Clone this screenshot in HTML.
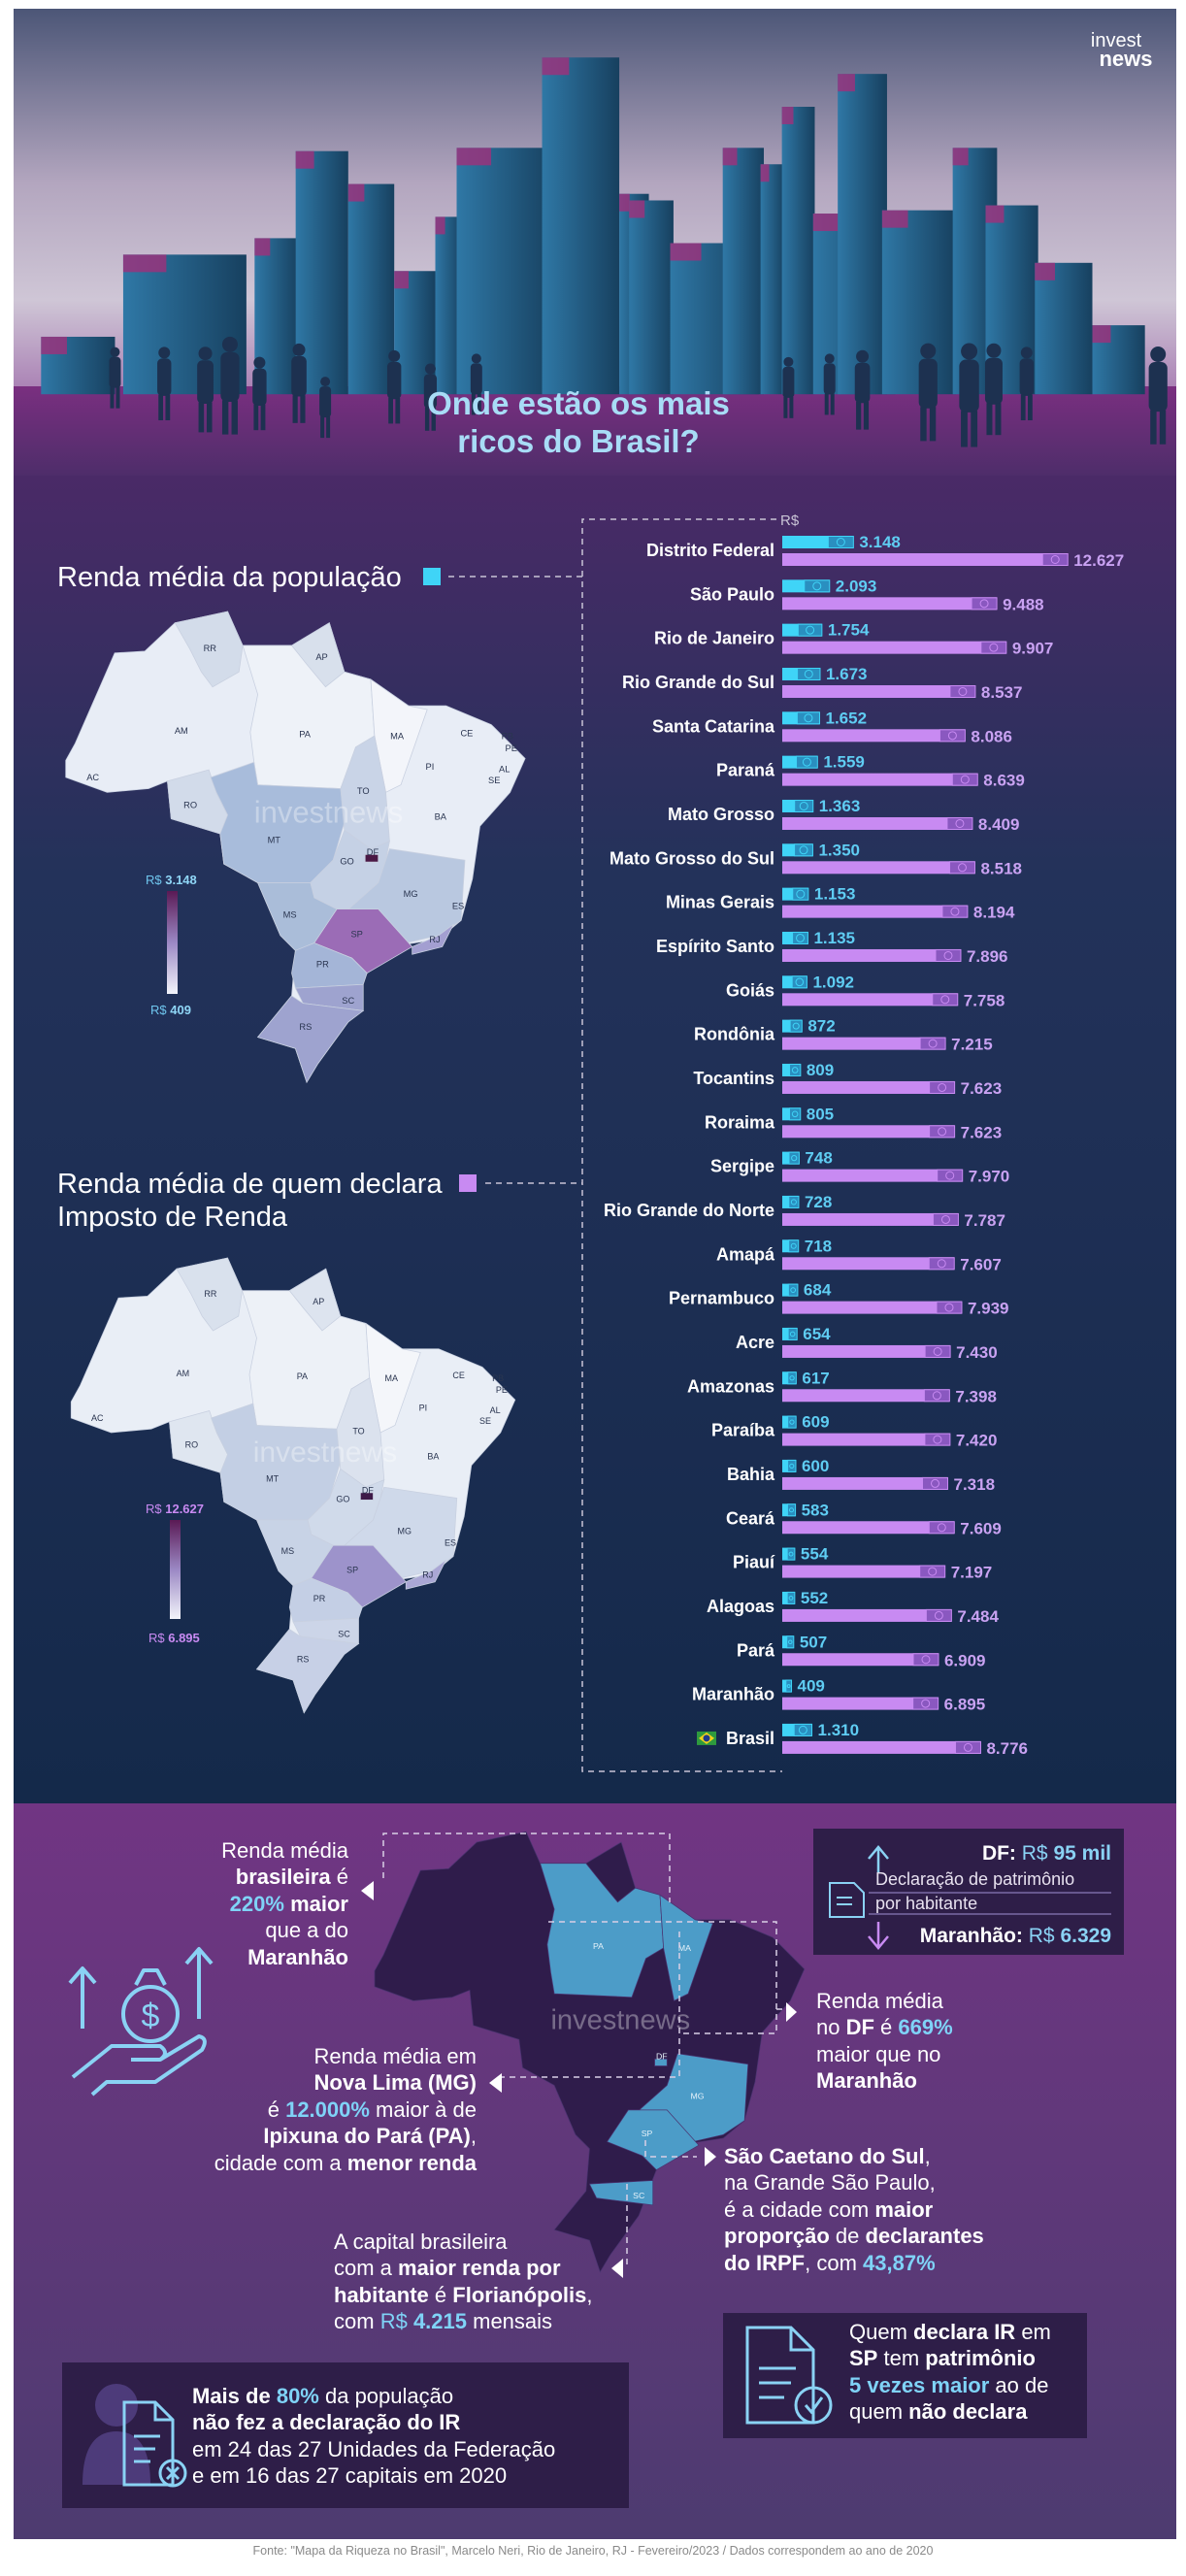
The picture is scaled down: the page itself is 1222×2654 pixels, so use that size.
<!DOCTYPE html>
<html lang="pt-BR"><head><meta charset="utf-8"><title>Onde estão os mais ricos do Brasil?</title>
<style>
html,body{margin:0;padding:0;background:#fff;}
body{width:1222px;height:2654px;position:relative;overflow:hidden;font-family:"Liberation Sans",sans-serif;}
#art{position:absolute;left:0;top:0;}
.t{position:absolute;color:#fff;font-size:22px;line-height:27.4px;font-family:"Liberation Sans",sans-serif;white-space:nowrap;}
.t b{font-weight:bold;}
.c{color:#7fd3f7;}
.r{text-align:right;}
</style></head>
<body>
<svg id="art" width="1222" height="2654" viewBox="0 0 1222 2654" xmlns="http://www.w3.org/2000/svg" font-family="Liberation Sans, sans-serif">
<defs>
<linearGradient id="sky" x1="0" y1="0" x2="0" y2="1">
<stop offset="0" stop-color="#4c5677"/><stop offset="0.45" stop-color="#b3a6bf"/><stop offset="0.75" stop-color="#cfc6d6"/><stop offset="1" stop-color="#a77cb2"/></linearGradient>
<linearGradient id="ground" x1="0" y1="0" x2="0" y2="1"><stop offset="0" stop-color="#7a2f80"/><stop offset="1" stop-color="#4e2d6a"/></linearGradient>
<linearGradient id="dark" x1="0" y1="0" x2="0" y2="1"><stop offset="0" stop-color="#4a2a67"/><stop offset="0.3" stop-color="#23325a"/><stop offset="1" stop-color="#14294a"/></linearGradient>
<linearGradient id="purp" x1="0" y1="0" x2="0" y2="1"><stop offset="0" stop-color="#713583"/><stop offset="1" stop-color="#4d3b70"/></linearGradient>
<linearGradient id="bld" x1="0" y1="0" x2="1" y2="0"><stop offset="0" stop-color="#2f78a6"/><stop offset="1" stop-color="#17405f"/></linearGradient>
<linearGradient id="leg1" x1="0" y1="0" x2="0" y2="1"><stop offset="0" stop-color="#5a1a55"/><stop offset="0.5" stop-color="#9b88c4"/><stop offset="1" stop-color="#f2f4fa"/></linearGradient>
</defs>
<rect x="14" y="9" width="1198" height="400" fill="url(#sky)"/>
<rect x="14" y="398" width="1198" height="92" fill="url(#ground)"/>
<g id="buildings"></g>
<g id="people" fill="#1d3150"></g>
<text x="1150" y="48" fill="#fff" font-size="20" text-anchor="middle">invest</text>
<text x="1160" y="68" fill="#fff" font-size="22" font-weight="bold" text-anchor="middle">news</text>
<text x="596" y="427" fill="#a8dcf6" font-size="33" font-weight="bold" text-anchor="middle">Onde estão os mais</text>
<text x="596" y="466" fill="#a8dcf6" font-size="33" font-weight="bold" text-anchor="middle">ricos do Brasil?</text>

<rect x="14" y="490" width="1198" height="1368" fill="url(#dark)"/>
<rect x="14" y="1858" width="1198" height="758" fill="url(#purp)"/>

<text x="59" y="604" fill="#fff" font-size="29">Renda média da população</text>
<rect x="436" y="585" width="18" height="18" fill="#3fd4f7"/>
<line x1="462" y1="594" x2="600" y2="594" stroke="#c9c4d6" stroke-width="1.5" stroke-dasharray="6,5"/>
<text x="59" y="1229" fill="#fff" font-size="29">Renda média de quem declara</text>
<text x="59" y="1263" fill="#fff" font-size="29">Imposto de Renda</text>
<rect x="473" y="1210" width="18" height="18" fill="#c88af2"/>
<line x1="500" y1="1219" x2="600" y2="1219" stroke="#c9c4d6" stroke-width="1.5" stroke-dasharray="6,5"/>
<path d="M800,535 H600 V1825 H806" fill="none" stroke="#c9c4d6" stroke-width="1.5" stroke-dasharray="6,5"/>
<text x="804" y="541" fill="#c9c4d6" font-size="15">R$</text>

<g id="map1" transform="translate(-6,537) scale(0.388)"></g>
<g id="map2" transform="translate(2,1206) scale(0.375)"></g>
<g id="map3" transform="translate(317,1800) scale(0.363)"></g>

<text x="150" y="911" fill="#6fc6ee" font-size="13">R$ <tspan font-weight="bold" fill="#8fd6f6">3.148</tspan></text>
<rect x="172" y="918" width="11" height="106" fill="url(#leg1)"/>
<text x="155" y="1045" fill="#6fc6ee" font-size="13">R$ <tspan font-weight="bold" fill="#8fd6f6">409</tspan></text>
<text x="150" y="1559" fill="#c88af2" font-size="13">R$ <tspan font-weight="bold">12.627</tspan></text>
<rect x="175" y="1566" width="11" height="102" fill="url(#leg1)"/>
<text x="153" y="1692" fill="#c88af2" font-size="13">R$ <tspan font-weight="bold">6.895</tspan></text>

<g id="chart"></g>

<path d="M395,1935 V1889 H690 V1960" fill="none" stroke="#d9cfe6" stroke-width="1.5" stroke-dasharray="6,5"/>
<polygon points="372,1948 385,1938 385,1958" fill="#fff"/>
<path d="M565,1980 H800 V2095 H700" fill="none" stroke="#d9cfe6" stroke-width="1.5" stroke-dasharray="6,5"/>
<path d="M700,1990 V2140 H510" fill="none" stroke="#d9cfe6" stroke-width="1.5" stroke-dasharray="6,5"/>
<path d="M800,2070 H810" fill="none" stroke="#d9cfe6" stroke-width="1.5" stroke-dasharray="6,5"/>
<polygon points="821,2073 810,2063 810,2083" fill="#fff"/>
<polygon points="504,2146 517,2136 517,2156" fill="#fff"/>
<path d="M665,2205 V2222 H718" fill="none" stroke="#d9cfe6" stroke-width="1.5" stroke-dasharray="6,5"/>
<polygon points="738,2222 726,2212 726,2232" fill="#fff"/>
<path d="M646,2250 V2337" fill="none" stroke="#d9cfe6" stroke-width="1.5" stroke-dasharray="6,5"/>
<polygon points="630,2337 642,2327 642,2347" fill="#fff"/>

<g fill="none" stroke="#8ad2f4" stroke-width="4" stroke-linejoin="round">
<path d="M85,2090 V2030 M72,2043 L85,2028 L98,2043"/>
<path d="M205,2080 V2010 M192,2023 L205,2008 L218,2023"/>
<circle cx="155" cy="2075" r="28"/><path d="M140,2045 L148,2030 H162 L170,2045"/>
<text x="155" y="2088" fill="#8ad2f4" stroke="none" font-size="34" text-anchor="middle">$</text>
<path d="M75,2140 L115,2108 H165 Q175,2115 165,2122 H135 M165,2122 L205,2098 Q215,2100 208,2112 L160,2145 H110 L95,2158"/>
</g>

<rect x="838" y="1884" width="320" height="130" fill="#2e1e48"/>
<line x1="895" y1="1950" x2="1145" y2="1950" stroke="#7a6aa6" stroke-width="1.5"/>
<line x1="895" y1="1972" x2="1145" y2="1972" stroke="#7a6aa6" stroke-width="1.5"/>
<path d="M905,1930 V1905 M895,1915 L905,1903 L915,1915" stroke="#8ad2f4" stroke-width="2.5" fill="none"/>
<path d="M905,1980 V2005 M895,1995 L905,2007 L915,1995" stroke="#c88af2" stroke-width="2.5" fill="none"/>
<path d="M855,1940 H880 L890,1950 V1975 H855 Z M862,1955 H878 M862,1962 H878" stroke="#8ad2f4" stroke-width="2" fill="none"/>
<text x="1145" y="1916" fill="#fff" font-size="21" font-weight="bold" text-anchor="end">DF: <tspan fill="#8ad2f4" font-weight="normal">R$</tspan><tspan fill="#8ad2f4"> 95 mil</tspan></text>
<text x="902" y="1942" fill="#e8e2f0" font-size="18">Declaração de patrimônio</text>
<text x="902" y="1967" fill="#e8e2f0" font-size="18">por habitante</text>
<text x="1145" y="2001" fill="#fff" font-size="21" font-weight="bold" text-anchor="end">Maranhão: <tspan fill="#8ad2f4" font-weight="normal">R$</tspan><tspan fill="#8ad2f4"> 6.329</tspan></text>

<rect x="745" y="2383" width="375" height="129" fill="#2e1e48"/>
<g fill="none" stroke="#8ad2f4" stroke-width="3"><path d="M770,2398 H815 L838,2421 V2496 H770 Z M815,2398 V2421 H838 M782,2440 H820 M782,2455 H815 M782,2470 H808"/><circle cx="838" cy="2478" r="18"/><path d="M830,2478 L836,2485 L847,2470"/></g>

<rect x="64" y="2434" width="584" height="150" fill="#2e1e48"/>
<circle cx="120" cy="2478" r="22" fill="#4d3b7a"/><path d="M85,2560 Q85,2505 120,2505 Q155,2505 155,2560 Z" fill="#4d3b7a"/>
<g fill="none" stroke="#8ad2f4" stroke-width="3"><path d="M128,2475 H160 L178,2493 V2560 H128 Z M160,2475 V2493 H178 M138,2510 H165 M138,2523 H160 M138,2536 H155"/><circle cx="178" cy="2548" r="13"/><path d="M172,2542 L184,2554 M184,2542 L172,2554"/></g>

<text x="611" y="2632" fill="#8a8a8a" font-size="12.5" text-anchor="middle">Fonte: "Mapa da Riqueza no Brasil", Marcelo Neri, Rio de Janeiro, RJ - Fevereiro/2023 / Dados correspondem ao ano de 2020</text>
</svg>

<div class="t r" style="right:863px;top:1893px;">Renda média<br><b>brasileira</b> é<br><b class="c">220%</b> <b>maior</b><br>que a do<br><b>Maranhão</b></div>
<div class="t" style="left:841px;top:2048px;">Renda média<br>no <b>DF</b> é <b class="c">669%</b><br>maior que no<br><b>Maranhão</b></div>
<div class="t r" style="right:731px;top:2105px;">Renda média em<br><b>Nova Lima (MG)</b><br>é <b class="c">12.000%</b> maior à de<br><b>Ipixuna do Pará (PA)</b>,<br>cidade com a <b>menor renda</b></div>
<div class="t" style="left:746px;top:2208px;"><b>São Caetano do Sul</b>,<br>na Grande São Paulo,<br>é a cidade com <b>maior</b><br><b>proporção</b> de <b>declarantes</b><br><b>do IRPF</b>, com <b class="c">43,87%</b></div>
<div class="t" style="left:344px;top:2296px;">A capital brasileira<br>com a <b>maior renda por</b><br><b>habitante</b> é <b>Florianópolis</b>,<br>com <span class="c">R$</span> <b class="c">4.215</b> mensais</div>
<div class="t" style="left:875px;top:2389px;">Quem <b>declara IR</b> em<br><b>SP</b> tem <b>patrimônio</b><br><b class="c">5 vezes maior</b> ao de<br>quem <b>não declara</b></div>
<div class="t" style="left:198px;top:2455px;"><b>Mais de</b> <b class="c">80%</b> da população<br><b>não fez a declaração do IR</b><br>em 24 das 27 Unidades da Federação<br>e em 16 das 27 capitais em 2020</div>

<script>
const states = ["Distrito Federal","São Paulo","Rio de Janeiro","Rio Grande do Sul","Santa Catarina","Paraná","Mato Grosso","Mato Grosso do Sul","Minas Gerais","Espírito Santo","Goiás","Rondônia","Tocantins","Roraima","Sergipe","Rio Grande do Norte","Amapá","Pernambuco","Acre","Amazonas","Paraíba","Bahia","Ceará","Piauí","Alagoas","Pará","Maranhão","Brasil"];
const rendaPopulacao = [3148,2093,1754,1673,1652,1559,1363,1350,1153,1135,1092,872,809,805,748,728,718,684,654,617,609,600,583,554,552,507,409,1310];
const rendaDeclarantes = [12627,9488,9907,8537,8086,8639,8409,8518,8194,7896,7758,7215,7623,7623,7970,7787,7607,7939,7430,7398,7420,7318,7609,7197,7484,6909,6895,8776];

const NS="http://www.w3.org/2000/svg";
function mk(tag,attrs,parent){const e=document.createElementNS(NS,tag);for(const k in attrs)e.setAttribute(k,attrs[k]);if(parent)parent.appendChild(e);return e;}
function fmt(v){const s=String(v);return s.length>3?s.slice(0,s.length-3)+"."+s.slice(-3):s;}
const X0=806, PX=0.0233, Y0=567, STEP=45.33;
const xScale=v=>v*PX;
const yRow=i=>Y0+i*STEP;
const chart=document.getElementById('chart');
function bar(i,v,yTop,col,iconCol,textCol,textY,kind){
  const w=xScale(v);
  const r=mk('rect',{x:X0,y:yTop,width:w,height:13,fill:col},chart);
  
  
  const iw=Math.min(26,w*0.6);
  mk('rect',{x:X0+w-iw,y:yTop+0.5,width:iw,height:12,fill:iconCol,stroke:col,'stroke-width':1},chart);
  mk('circle',{cx:X0+w-iw/2,cy:yTop+6.5,r:Math.min(4,iw/4),fill:'none',stroke:col,'stroke-width':1},chart);
  const t=mk('text',{x:X0+w+6,y:textY,fill:textCol,'font-size':17,'font-weight':'bold'},chart);
  
  
  t.textContent=fmt(v);
}
states.forEach((s,i)=>{
  const y=yRow(i);
  const lab=mk('text',{x:798,y:y+6,fill:'#fff','font-size':18,'font-weight':'bold','text-anchor':'end'},chart);
  
  
  lab.textContent=s;
  if(s==="Brasil"){
    mk('rect',{x:718,y:y-7,width:20,height:14,fill:'#2e9a3e'},chart);
    mk('polygon',{points:`720,${y} 728,${y-6} 736,${y} 728,${y+6}`,fill:'#f2d21a'},chart);
    mk('circle',{cx:728,cy:y,r:3.5,fill:'#1f3a8a'},chart);
  }
  bar(i,rendaPopulacao[i],y-15,'#3fd4f7','#2a8fc0','#5fcdf3',y-3,'renda-populacao');
  bar(i,rendaDeclarantes[i],y+3,'#c88af2','#8a58c0','#c9a2f2',y+16,'renda-declarantes');
});

const outline="190,635 215,590 320,350 400,345 480,270 620,240 660,330 790,330 890,270 930,400 1000,420 1100,490 1200,490 1320,540 1410,630 1370,720 1290,810 1270,950 1240,1060 1180,1110 1050,1130 990,1200 940,1330 860,1440 830,1490 800,1400 700,1370 790,1260 800,1140 760,1100 700,960 610,910 600,830 470,790 460,690 410,710 300,720 190,680";
const shapes={
RR:"480,270 620,240 660,330 650,400 580,440 550,400 520,340",
AP:"790,330 890,270 930,400 880,440 830,380",
RO:"460,690 570,660 590,720 620,780 610,830 600,830 470,790",
PA:"660,330 790,330 830,380 880,440 930,400 1000,420 1010,570 960,600 920,710 700,700 690,640 680,560 700,460",
MA:"1000,420 1100,490 1150,500 1080,700 1040,720 1010,570",
MT:"575,680 690,640 700,700 920,710 930,800 900,900 840,960 700,960 610,910 600,830 620,780 590,720",
TO:"920,710 960,600 1010,570 1040,720 1050,850 1000,870 930,820",
GO:"840,960 900,900 930,820 1000,870 1050,850 1040,900 1020,960 930,1040 850,1000",
MS:"700,960 840,960 850,1000 910,1030 850,1120 800,1140 760,1100",
MG:"1020,960 1050,870 1250,900 1240,1060 1180,1100 1050,1130 930,1040",
SP:"850,1120 910,1030 1020,1030 1110,1130 990,1200 950,1160",
RJ:"1110,1130 1180,1100 1220,1070 1190,1130 1110,1150",
PR:"800,1140 850,1120 950,1160 990,1200 980,1230 800,1240 790,1200",
SC:"800,1240 980,1230 980,1300 900,1290 820,1280",
RS:"700,1370 790,1260 820,1280 900,1290 980,1300 940,1330 860,1440 830,1490 800,1400",
DF:"985,885 1020,885 1020,905 985,905"};
const labels={AM:[497,557],PA:[825,565],MA:[1070,570],CE:[1255,563],RR:[573,338],AP:[870,360],AC:[262,680],RO:[521,753],MT:[743,847],TO:[980,716],GO:[937,903],DF:[1005,878],MG:[1106,990],MS:[785,1045],SP:[963,1097],RJ:[1170,1110],PR:[872,1176],SC:[940,1273],RS:[827,1343],BA:[1185,785],PI:[1157,652],PB:[1363,570],PE:[1373,603],AL:[1355,658],SE:[1328,688],ES:[1232,1022]};
function drawMap(id,base,colors,stroke,labelCol,only){
  const g=document.getElementById(id);
  mk('polygon',{points:outline,fill:base,stroke:stroke,'stroke-width':2},g);
  for(const k in colors){ mk('polygon',{points:shapes[k],fill:colors[k],stroke:stroke,'stroke-width':2},g); }
  mk('text',{x:690,y:800,fill:'#ffffff','fill-opacity':0.35,'font-size':80},g).textContent="investnews";
  for(const k in labels){ if(only && !only.includes(k)) continue;
    const t=mk('text',{x:labels[k][0],y:labels[k][1]+8,fill:labelCol,'font-size':24,'text-anchor':'middle'},g); t.textContent=k; }
}
drawMap('map1','#e8edf6',{RR:'#d3dcea',AP:'#d8e0ec',RO:'#d2dbea',PA:'#eef2f8',MA:'#f3f5fa',MT:'#a8bcdb',TO:'#c9d4e7',GO:'#c5d1e5',MS:'#aabdd9',MG:'#b9c8e0',SP:'#9b6cb6',RJ:'#a39fd1',PR:'#a4b5d7',SC:'#9ea3cf',RS:'#9ea3cf',DF:'#4a1845'},'#c8d0e0','#2a3550');
drawMap('map2','#e9eef6',{RR:'#d9e1ed',AP:'#dde4ef',RO:'#dfe6f0',PA:'#edf1f7',MA:'#f4f6fa',MT:'#c3cfe4',TO:'#dbe2ee',GO:'#d0daea',MS:'#c8d3e6',MG:'#cfd9ea',SP:'#9d93cb',RJ:'#aaa7d5',PR:'#c4cfe5',SC:'#ccd5e8',RS:'#c7d0e6',DF:'#3d1a48'},'#c8d0e0','#2a3550');
drawMap('map3','#2f1c4b',{PA:'#4c9cc8',MA:'#4c9cc8',MG:'#4c9cc8',SP:'#4c9cc8',SC:'#4c9cc8',DF:'#4c9cc8'},'#4a3370','#e6f2fa',['PA','MA','DF','MG','SP','SC']);

const S=1.6925;
const blds=[[25,70,205],[75,150,155],[155,182,145],[180,212,92],[212,240,112],[240,265,165],[265,282,132],[278,338,90],[330,377,35],[377,395,118],[383,410,122],[408,462,148],[440,465,90],[463,478,100],[476,496,65],[495,545,130],[510,540,45],[537,582,128],[580,607,90],[600,632,125],[630,665,160],[665,697,198]];
const bg=document.getElementById('buildings');
blds.forEach(b=>{
  mk('rect',{x:b[0]*S,y:b[2]*S,width:(b[1]-b[0])*S,height:(240-b[2])*S,fill:'url(#bld)'},bg);
  mk('rect',{x:b[0]*S,y:b[2]*S,width:(b[1]-b[0])*S*0.35,height:18,fill:'#a0307a','fill-opacity':0.8},bg);
});
const pg=document.getElementById('people');
const ppl=[[70,232,1],[100,236,1.2],[125,240,1.4],[140,238,1.6],[158,242,1.2],[182,236,1.3],[198,250,1],[240,238,1.2],[262,244,1.1],[290,236,1],[480,238,1],[505,236,1],[525,240,1.3],[565,242,1.6],[590,244,1.7],[605,240,1.5],[625,236,1.2],[705,244,1.6]];
ppl.forEach(p=>{const x=p[0]*S,y=p[1]*S,k=p[2];
  mk('circle',{cx:x,cy:y-30*k,r:5*k},pg);
  mk('rect',{x:x-6*k,y:y-25*k,width:12*k,height:32*k,rx:4*k},pg);
  mk('rect',{x:x-5*k,y:y+6*k,width:4*k,height:22*k},pg);
  mk('rect',{x:x+1*k,y:y+6*k,width:4*k,height:22*k},pg);});
</script>
</body></html>
